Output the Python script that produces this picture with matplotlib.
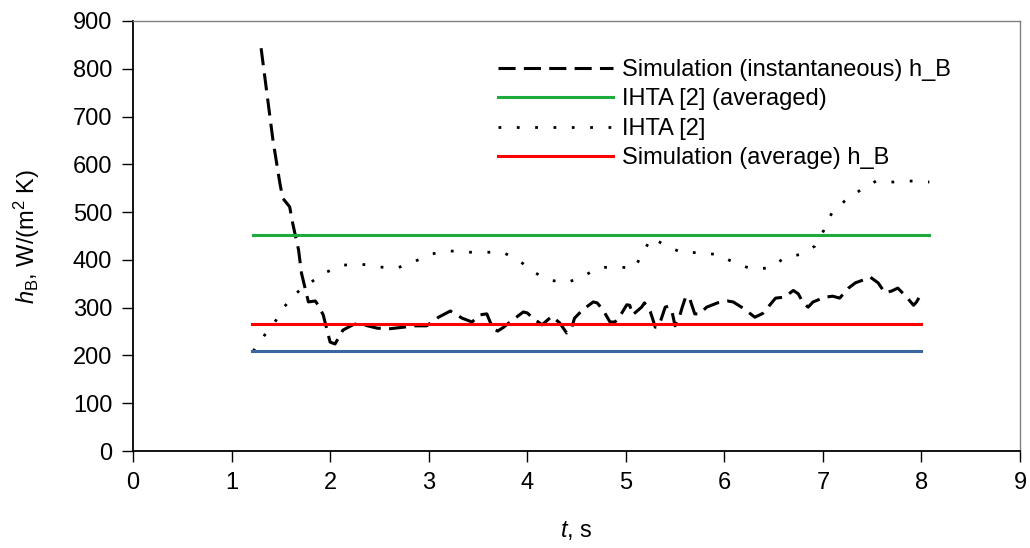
import numpy as np
import matplotlib
matplotlib.use("Agg")
import matplotlib.pyplot as plt

plt.rcParams['font.family'] = ['Liberation Sans', 'DejaVu Sans']
plt.rcParams['mathtext.fontset'] = 'custom'
plt.rcParams['mathtext.rm'] = 'Liberation Sans'
plt.rcParams['mathtext.it'] = 'Liberation Sans:italic'

# Simulation (instantaneous) h_B
t_inst = [1.30, 1.42, 1.49, 1.52, 1.59, 1.62, 1.68, 1.71, 1.78, 1.85, 1.88, 1.93,
          2.00, 2.05, 2.13, 2.23, 2.30, 2.38, 2.48, 2.61, 2.74, 2.86, 2.98, 3.10,
          3.22, 3.34, 3.44, 3.52, 3.59, 3.65, 3.70, 3.76, 3.85, 3.89, 3.96, 4.00,
          4.06, 4.15, 4.25, 4.33, 4.40, 4.45, 4.48, 4.56, 4.67, 4.71, 4.77, 4.84,
          4.89, 4.94, 5.01, 5.04, 5.07, 5.16, 5.19, 5.25, 5.30, 5.35, 5.40, 5.43,
          5.47, 5.50, 5.53, 5.57, 5.61, 5.65, 5.70, 5.75, 5.82, 5.93, 6.03, 6.09,
          6.19, 6.31, 6.39, 6.52, 6.61, 6.70, 6.75, 6.80, 6.85, 6.90, 7.02, 7.10,
          7.17, 7.26, 7.33, 7.41, 7.48, 7.56, 7.63, 7.70, 7.76, 7.85, 7.92, 7.95,
          8.01]
h_inst = [843, 651, 561, 529, 511, 477, 421, 372, 312, 314, 305, 285,
          228, 224, 253, 264, 268, 262, 257, 256, 259, 262, 262, 280,
          293, 278, 270, 285, 287, 257, 251, 259, 274, 280, 291, 289,
          278, 264, 282, 268, 247, 257, 278, 295, 312, 310, 295, 270,
          270, 282, 306, 305, 285, 301, 310, 291, 259, 270, 301, 303,
          291, 262, 270, 299, 324, 318, 287, 287, 301, 310, 314, 312,
          299, 280, 288, 320, 322, 336, 329, 310, 301, 312, 322, 324,
          320, 341, 352, 358, 364, 352, 331, 335, 341, 322, 305, 312,
          333]

# IHTA [2]
t_ihta = [1.22, 1.33, 1.44, 1.54, 1.66, 1.81, 1.97, 2.13, 2.32, 2.50, 2.68, 2.85,
          3.02, 3.20, 3.39, 3.57, 3.75, 3.91, 4.06, 4.22, 4.40, 4.57, 4.73, 4.91,
          5.09, 5.17, 5.26, 5.42, 5.58, 5.76, 5.95, 6.11, 6.28, 6.46, 6.61, 6.78,
          6.92, 7.01, 7.09, 7.22, 7.38, 7.54, 7.71, 7.90, 8.08]
h_ihta = [209, 241, 270, 303, 331, 354, 375, 389, 391, 385, 383, 396,
          412, 419, 416, 416, 416, 400, 375, 358, 352, 366, 384, 385,
          383, 414, 446, 429, 414, 416, 410, 393, 381, 383, 404, 412,
          429, 462, 498, 523, 546, 565, 563, 565, 563]

# constant levels
t_green = [1.22, 8.08]
h_green = 452
t_red = [1.21, 8.00]
h_red = 265
t_blue = [1.21, 8.00]
h_blue = 210

fig = plt.figure(figsize=(10.30, 5.48), dpi=100)
ax = fig.add_axes([0.1291, 0.177, 0.8612, 0.7847])

ax.plot(t_inst, h_inst, color='black', lw=2.2, dashes=(5.6, 2.7),
        label='Simulation (instantaneous) h_B')
ax.plot(t_green, [h_green, h_green], color='#1cab3c', lw=2.2,
        label='IHTA [2] (averaged)')
ax.plot(t_ihta, h_ihta, color='black', lw=2.0, dashes=(1, 5.6),
        label='IHTA [2]')
ax.plot(t_red, [h_red, h_red], color='#ff0000', lw=2.2,
        label='Simulation (average) h_B')
ax.plot(t_blue, [h_blue, h_blue], color='#3b67a0', lw=2.2)

ax.set_xlim(0, 9)
ax.set_ylim(0, 900)
ax.set_xticks(range(0, 10))
ax.set_yticks(range(0, 1000, 100))
ax.tick_params(direction='out', length=8, width=1, labelsize=17, pad=7)

for side in ['left', 'bottom']:
    ax.spines[side].set_linewidth(1.3)
    ax.spines[side].set_color('black')
for side in ['top', 'right']:
    ax.spines[side].set_linewidth(1.0)
    ax.spines[side].set_color('#808080')

ax.set_xlabel(r'$t$, s', fontsize=17, labelpad=18)
ax.set_ylabel(r'$h_\mathrm{B}$, W/(m$^2$ K)', fontsize=17, labelpad=22)

ax.legend(loc='upper left', bbox_to_anchor=(0.411, 0.912), frameon=False,
          fontsize=17, handlelength=4.87, handletextpad=0.38,
          labelspacing=0.32, borderpad=0, borderaxespad=0)

fig.savefig('out.png', dpi=100)
